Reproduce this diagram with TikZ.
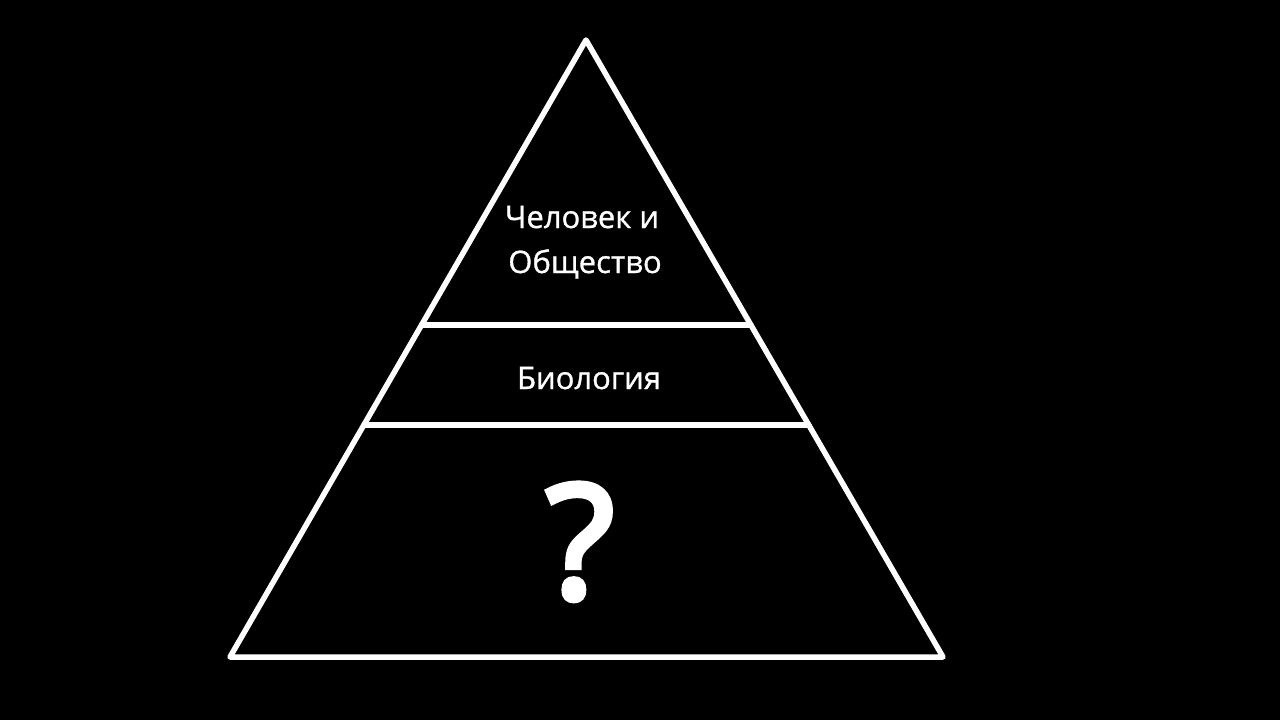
\documentclass[tikz,border=0pt]{standalone}
\usepackage{fontspec}
\setmainfont{Open Sans}
\newfontfamily\semifont[FakeBold=1]{Open Sans}
\newfontfamily\qmfont[FakeBold=4]{Open Sans}
\usetikzlibrary{calc}
\begin{document}
\begin{tikzpicture}[x=1pt,y=-1pt,
  edge/.style={draw=white,line width=5.5pt,line join=round,line cap=round},
  lbl/.style={text=white,anchor=base,inner sep=0pt,font=\semifont\fontsize{31}{36}\selectfont},
  qm/.style={text=white,anchor=base,inner sep=0pt,font=\qmfont\fontsize{158}{170}\selectfont}]
\fill[black] (0,0) rectangle (1280,720);
\useasboundingbox (0,0) rectangle (1280,720);
\coordinate (A) at (586,40);
\coordinate (L) at (230,657);
\coordinate (R) at (943,657);
\coordinate (L1) at ($(A)!0.4619!(L)$);
\coordinate (R1) at ($(A)!0.4619!(R)$);
\coordinate (L2) at ($(A)!0.6240!(L)$);
\coordinate (R2) at ($(A)!0.6240!(R)$);
\draw[edge] (A) -- (L) -- (R) -- cycle;
\draw[edge] (L1) -- (R1);
\draw[edge] (L2) -- (R2);
\node[lbl] (t1) at (582,228) {Человек и};
\node[lbl] (t2) at (585,273) {Общество};
\node[lbl] (t3) at (589,389) {Биология};
\node[qm] (q) at (580,598) {?};
\end{tikzpicture}
\end{document}
